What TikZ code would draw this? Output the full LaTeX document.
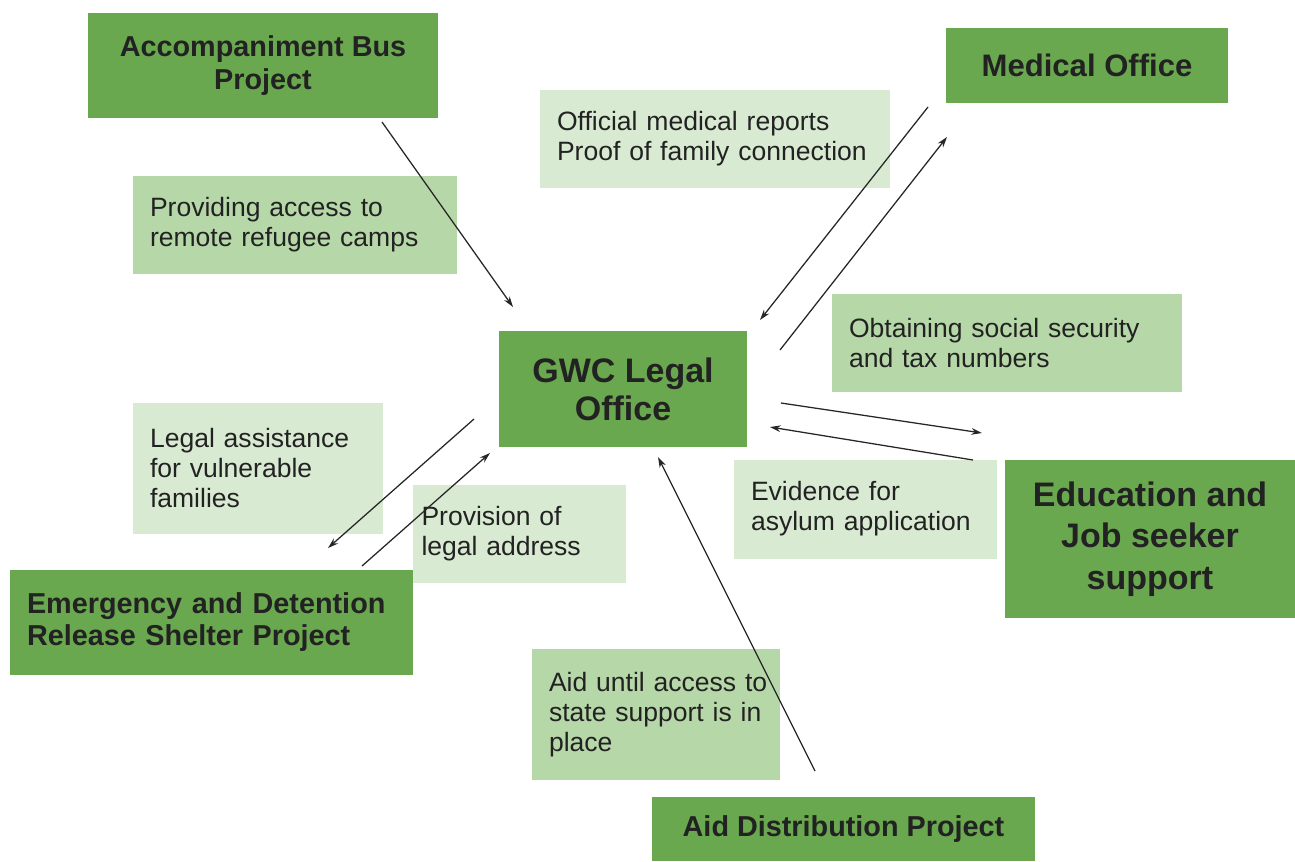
\documentclass[tikz,border=0pt]{standalone}
\usepackage{fontspec}
\setmainfont{Liberation Sans}
\usetikzlibrary{arrows.meta}
\definecolor{darkg}{HTML}{6AA84F}
\definecolor{midg}{HTML}{B6D7A8}
\definecolor{paleg}{HTML}{D9EAD3}
\definecolor{txt}{HTML}{222222}
\newcommand\pxu{0.75pt}
\begin{document}
\begin{tikzpicture}[x=0.75pt,y=-0.75pt,
  darkbox/.style={fill=darkg,draw=none,inner sep=0pt,text=txt,font=\bfseries,align=center},
  lightbox/.style={draw=none,inner sep=0pt,text=txt,align=left,font=\fontsize{19.9}{22.5}\selectfont},
  conn/.style={draw=black!85,line width=0.95pt,-{Stealth[length=8pt,width=5pt]}}]
\useasboundingbox (0,0) rectangle (1295,861);
% dark boxes
\node[darkbox,minimum width=350*\pxu,minimum height=105*\pxu,font=\bfseries\fontsize{21.6}{24.75}\selectfont] (acc) at (263,65.5) {Accompaniment Bus\\Project};
\node[darkbox,minimum width=282*\pxu,minimum height=75*\pxu,font=\bfseries\fontsize{23.3}{27}\selectfont] (med) at (1087,65.5) {Medical Office};
\node[darkbox,minimum width=248*\pxu,minimum height=116*\pxu,font=\bfseries\fontsize{25.5}{28.5}\selectfont] (gwc) at (623,389) {GWC Legal\\Office};
\node[darkbox,minimum width=290*\pxu,minimum height=158*\pxu,font=\bfseries\fontsize{25.5}{31}\selectfont] (edu) at (1150,539) {Education and\\Job seeker\\support};
\node[darkbox,minimum width=403*\pxu,minimum height=105*\pxu,align=left,text width=369*\pxu,font=\bfseries\fontsize{21.6}{24}\selectfont] (eme) at (211.5,622.5) {Emergency and Detention\\Release Shelter Project};
\node[darkbox,minimum width=383*\pxu,minimum height=64*\pxu,font=\bfseries\fontsize{21.6}{24.75}\selectfont] (aid) at (843.5,829) {Aid Distribution Project};
% light boxes
\node[lightbox,fill=paleg,minimum width=350*\pxu,minimum height=98*\pxu,text width=316*\pxu] (lmed) at (715,139) {Official medical reports\\Proof of family connection};
\node[lightbox,fill=midg,minimum width=324*\pxu,minimum height=98*\pxu,text width=290*\pxu] (lacc) at (295,225) {Providing access to\\remote refugee camps};
\node[lightbox,fill=midg,minimum width=350*\pxu,minimum height=98*\pxu,text width=316*\pxu] (lsoc) at (1007,343) {Obtaining social security\\and tax numbers};
\node[lightbox,fill=paleg,minimum width=250*\pxu,minimum height=131*\pxu,text width=216*\pxu] (lleg) at (258,468.5) {Legal assistance\\for vulnerable\\families};
\node[lightbox,fill=paleg,minimum width=213*\pxu,minimum height=98*\pxu,text width=196*\pxu] (lprov) at (519.5,534) {Provision of\\legal address};
\node[lightbox,fill=paleg,minimum width=263*\pxu,minimum height=99*\pxu,text width=229*\pxu] (levi) at (865.5,509) {Evidence for\\asylum application};
\node[lightbox,fill=midg,minimum width=248*\pxu,minimum height=131*\pxu,text width=214*\pxu] (laid) at (656,714.5) {\mbox{Aid until access to}\\state support is in\\place};
% connector end points
\coordinate (accS) at (382,122);   \coordinate (accE) at (513,307);
\coordinate (medS) at (928,107);   \coordinate (medE) at (760,320);
\coordinate (gmS) at (780,350);    \coordinate (gmE) at (947,137);
\coordinate (geS) at (781,403);    \coordinate (geE) at (982,433);
\coordinate (egS) at (973,460);    \coordinate (egE) at (770,427);
\coordinate (gxS) at (474,419);    \coordinate (gxE) at (328,548);
\coordinate (xgS) at (362,566);    \coordinate (xgE) at (490,453);
\coordinate (agS) at (815,771);    \coordinate (agE) at (658,457);
% connectors
\draw[conn] (accS) -- (accE);
\draw[conn] (medS) -- (medE);
\draw[conn] (gmS) -- (gmE);
\draw[conn] (geS) -- (geE);
\draw[conn] (egS) -- (egE);
\draw[conn] (gxS) -- (gxE);
\draw[conn] (xgS) -- (xgE);
\draw[conn] (agS) -- (agE);
\end{tikzpicture}
\end{document}
